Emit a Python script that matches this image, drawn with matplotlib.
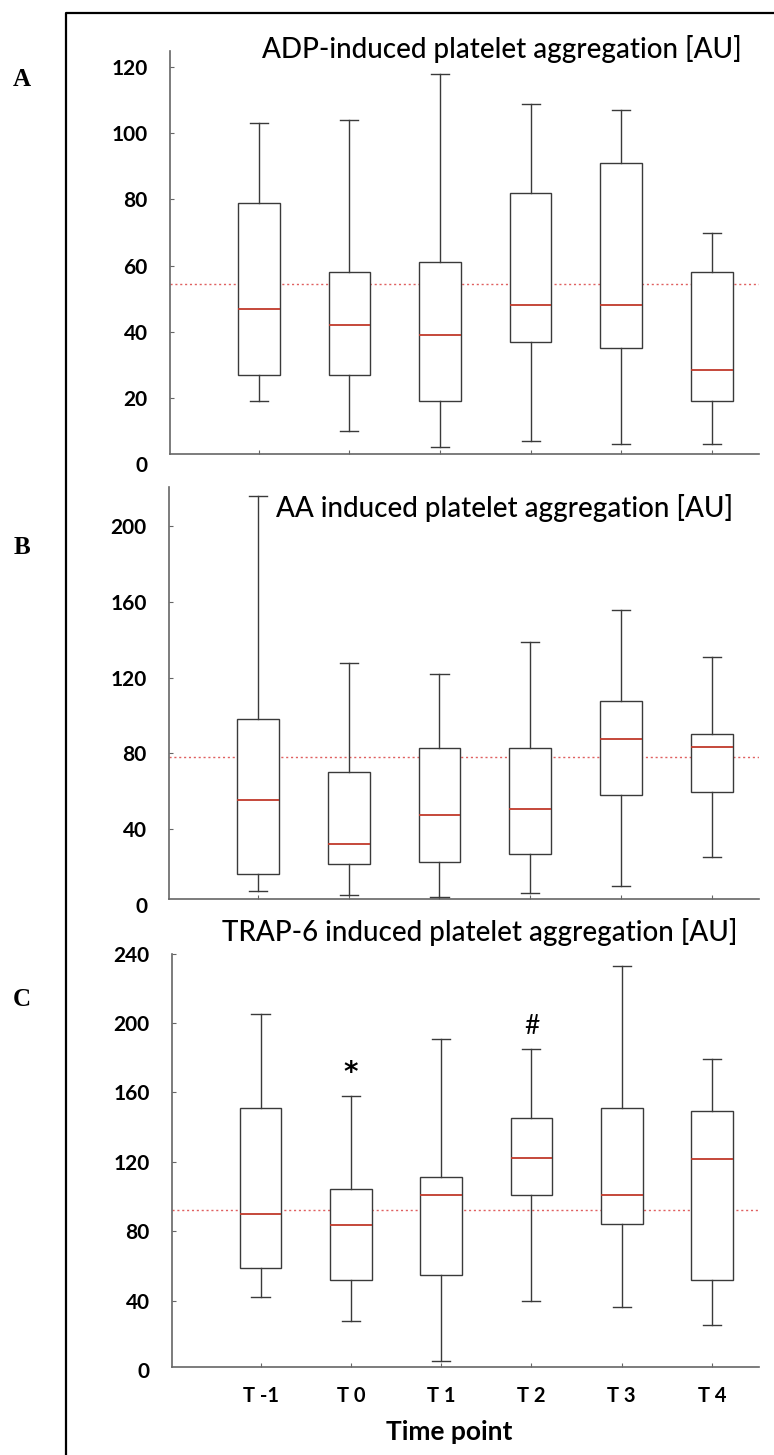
import matplotlib
matplotlib.use("Agg")
import matplotlib.pyplot as plt
from matplotlib.lines import Line2D
from matplotlib.transforms import offset_copy

plt.rcParams['font.family'] = ['Lato', 'DejaVu Sans']

# --- data ---
time_points = ['T -1', 'T 0', 'T 1', 'T 2', 'T 3', 'T 4']

# A: ADP
adp_lo = [19, 10, 5, 7, 6, 6]
adp_q1 = [27, 27, 19, 37, 35, 19]
adp_med = [47, 42, 39, 48, 48, 28.5]
adp_q3 = [79, 58, 61, 82, 91, 58]
adp_hi = [103, 104, 118, 109, 107, 70]
adp_ref = 54.5

# B: AA
aa_lo = [7, 5, 4, 6, 10, 25]
aa_q1 = [16, 21.5, 22.5, 27, 58, 59.5]
aa_med = [55.5, 32, 47.5, 50.5, 87.5, 83.5]
aa_q3 = [98, 70, 83, 83, 107.5, 90]
aa_hi = [216, 128, 122, 139, 156, 131]
aa_ref = 78

# C: TRAP-6
trap_lo = [42, 28, 5, 40, 36, 26]
trap_q1 = [59, 52, 55, 101, 84, 52]
trap_med = [90, 83.5, 101, 122, 101, 121.5]
trap_q3 = [151, 104, 111, 145, 151, 149]
trap_hi = [205, 158, 191, 185, 233, 179]
trap_ref = 92

W, H = 774, 1455
fig = plt.figure(figsize=(W / 100, H / 100), dpi=100)


def px_rect(l, t, r, b):
    return [l / W, 1 - b / H, (r - l) / W, (b - t) / H]


def draw_panel(rect, lo, q1, med, q3, hi, ref, ylim, yticks, show_x):
    ax = fig.add_axes(rect)
    stats = []
    for i in range(len(lo)):
        stats.append(dict(whislo=lo[i], q1=q1[i], med=med[i], q3=q3[i], whishi=hi[i]))
    ax.bxp(stats, positions=range(1, len(stats) + 1), widths=0.46, showfliers=False,
           patch_artist=True, capwidths=0.2, zorder=3,
           boxprops=dict(facecolor='white', edgecolor='#3a3a3a', linewidth=1.0),
           whiskerprops=dict(color='#3a3a3a', linewidth=1.0),
           capprops=dict(color='#3a3a3a', linewidth=1.0),
           medianprops=dict(color='#c0392b', linewidth=1.3))
    ax.axhline(ref, color='#e06060', linestyle=(0, (1.5, 2)), linewidth=1.0, zorder=1)

    ax.set_xlim(0.02, 6.52)
    ax.set_ylim(ylim)
    for s in ['top', 'right']:
        ax.spines[s].set_visible(False)
    for s in ['left', 'bottom']:
        ax.spines[s].set_color('#666666')
        ax.spines[s].set_linewidth(1.2)

    ax.set_yticks(yticks, [str(v) for v in yticks], fontweight='bold')
    ax.tick_params(axis='y', direction='in', length=3, pad=16, labelsize=15,
                   color='#666666', labelcolor='black')
    # the zero label sits just under the axis line
    ax.text(0, 0, '0', transform=offset_copy(ax.get_yaxis_transform(), fig=fig, x=-22, y=0, units='dots'),
            ha='right', va='center_baseline', fontsize=15, fontweight='bold', color='black')

    if show_x:
        ax.set_xticks(range(1, 7), time_points, fontweight='bold')
        ax.tick_params(axis='x', direction='in', length=3, pad=14, labelsize=14.5,
                       color='#666666', labelcolor='black')
    else:
        ax.set_xticks(range(1, 7))
        ax.tick_params(axis='x', direction='in', length=3, labelbottom=False, color='#666666')
    return ax


axA = draw_panel(px_rect(170, 50.7, 759, 454), adp_lo, adp_q1, adp_med, adp_q3, adp_hi,
                 adp_ref, (3, 125), [20, 40, 60, 80, 100, 120], False)
axB = draw_panel(px_rect(169, 486.7, 759, 899), aa_lo, aa_q1, aa_med, aa_q3, aa_hi,
                 aa_ref, (3, 221), [40, 80, 120, 160, 200], False)
axC = draw_panel(px_rect(172, 953.5, 759, 1367), trap_lo, trap_q1, trap_med, trap_q3, trap_hi,
                 trap_ref, (1.7, 240), [40, 80, 120, 160, 200, 240], True)

# significance marks
axC.text(2, 171, '*', ha='center', va='center', fontsize=20, fontweight='bold',
         family='DejaVu Sans', color='black')
axC.text(4, 198, '#', ha='center', va='center', fontsize=19, color='black')

# titles
fig.text(502 / W, 1 - 49 / H, 'ADP-induced platelet aggregation [AU]', ha='center', va='center',
         fontsize=20, fontweight='medium', color='black')
fig.text(505 / W, 1 - 508 / H, 'AA induced platelet aggregation [AU]', ha='center', va='center',
         fontsize=20, fontweight='medium', color='black')
fig.text(480 / W, 1 - 932 / H, 'TRAP-6 induced platelet aggregation [AU]', ha='center', va='center',
         fontsize=20, fontweight='medium', color='black')
fig.text(449 / W, 1 - 1432 / H, 'Time point', ha='center', va='center',
         fontsize=19, fontweight='bold', color='black')

# panel letters
for letter, y in [('A', 79), ('B', 547), ('C', 999)]:
    fig.text(22 / W, 1 - y / H, letter, ha='center', va='center', fontsize=18,
             fontweight='bold', family='Liberation Serif')

# outer frame (left and top)
fig.add_artist(Line2D([66 / W, 66 / W, 1], [0, 1 - 13 / H, 1 - 13 / H],
                      color='black', linewidth=1.6, transform=fig.transFigure))

fig.savefig('out.png', dpi=100)
